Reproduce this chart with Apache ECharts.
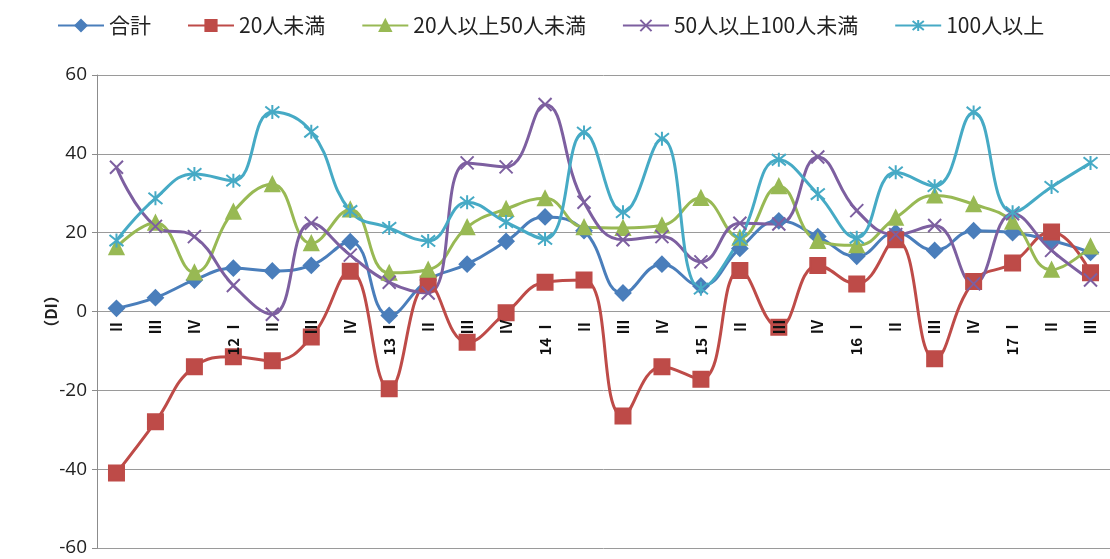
<!DOCTYPE html>
<html>
<head>
<meta charset="utf-8">
<script src="https://cdn.jsdelivr.net/npm/echarts@6/dist/echarts.min.js"></script>
<style>
  html, body { margin: 0; padding: 0; background: #fff; }
  #chart { width: 1110px; height: 559px; }
</style>
</head>
<body>
<div id="chart"></div>
<script>
// 四半期ラベル
const quarters = [
  'Ⅱ', 'Ⅲ', 'Ⅳ', '12 Ⅰ', 'Ⅱ', 'Ⅲ', 'Ⅳ', '13 Ⅰ', 'Ⅱ', 'Ⅲ', 'Ⅳ', '14 Ⅰ', 'Ⅱ',
  'Ⅲ', 'Ⅳ', '15 Ⅰ', 'Ⅱ', 'Ⅲ', 'Ⅳ', '16 Ⅰ', 'Ⅱ', 'Ⅲ', 'Ⅳ', '17 Ⅰ', 'Ⅱ', 'Ⅲ'
]

// 系列データ (DI)
const total = [0.8, 3.5, 8, 11, 10.3, 11.7, 17.7, -1, 8, 12, 17.8, 24, 20.5,
  4.7, 12, 6.5, 16, 23, 19, 14, 20, 15.5, 20.5, 20, 18, 15]
const under20 = [-41, -28, -14, -11.5, -12.5, -6.5, 10.2, -19.6, 7, -7.8, -0.3, 7.4, 8,
  -26.5, -14, -17.2, 10.4, -4, 11.7, 7, 18.2, -12, 7.6, 12.3, 20.2, 9.8]
const from20to50 = [16.3, 22.5, 9.9, 25.3, 32.3, 17.3, 25.9, 9.8, 10.6, 21.4, 26, 28.7, 21.4,
  21.2, 21.8, 28.8, 18.7, 31.8, 17.9, 16.8, 23.8, 29.4, 27.2, 22.8, 10.6, 16.5]
const from50to100 = [36.6, 21.6, 19, 6.6, -0.7, 22.4, 14.3, 7.4, 4.7, 37.7, 36.7, 52.5, 27.7,
  18.2, 19, 12.6, 22.4, 22.2, 39.2, 25.6, 19.5, 21.8, 7, 24.8, 15.5, 8]
const over100 = [18, 28.7, 34.9, 33.2, 50.6, 45.6, 25.5, 21.2, 17.9, 27.7, 22.7, 18.4, 45.4,
  25.2, 43.8, 5.8, 18.4, 38.5, 29.8, 18.7, 35.3, 31.8, 50.5, 25.2, 31.6, 37.7]

const yTicks = { min: -60, max: 60, interval: 20 }

const crossPath = 'path://M0 0 L10 10 M10 0 L0 10'
const starPath = 'path://M1 1 L9 9 M9 1 L1 9 M5 0 L5 10'

const mkSeries = (name, data, color, symbol, size) => ({
  name,
  type: 'line',
  data,
  smooth: 0.45,
  symbol,
  symbolSize: size,
  lineStyle: { color, width: 3 },
  itemStyle: { color, borderColor: color, borderWidth: 2 },
  emphasis: { disabled: true },
  z: 3
})

const chart = echarts.init(document.getElementById('chart'))

// 上半分のグリッドは 0 の線の下にラベルを置くためだけに使う
const plotTop = 75
const plotBottom = 11
const zeroY = plotTop + (559 - plotTop - plotBottom) * (yTicks.max / (yTicks.max - yTicks.min))

const option = {
  animation: false,
  backgroundColor: '#fff',
  legend: {
    top: 10,
    left: 52,
    itemWidth: 46,
    itemHeight: 14,
    itemGap: 36,
    textStyle: { fontSize: 21, color: '#222', fontFamily: '"Noto Sans CJK JP", sans-serif' },
    data: ['合計', '20人未満', '20人以上50人未満', '50人以上100人未満', '100人以上']
  },
  grid: [
    { left: 97, right: -7, top: plotTop, bottom: plotBottom },
    { left: 97, right: -7, top: plotTop, bottom: 559 - zeroY }
  ],
  xAxis: [
    {
      type: 'category',
      data: quarters,
      boundaryGap: true,
      axisLine: { show: false },
      axisTick: { show: false },
      axisLabel: { show: false }
    },
    {
      type: 'category',
      gridIndex: 1,
      data: quarters,
      boundaryGap: true,
      position: 'bottom',
      z: 10,
      axisLine: { show: false },
      axisTick: { show: false },
      axisLabel: {
        interval: 0,
        rotate: 90,
        margin: 8,
        fontSize: 15,
        color: '#111',
        fontWeight: 'bold',
        fontFamily: '"Noto Sans CJK JP", serif'
      }
    }
  ],
  yAxis: [
    {
      type: 'value',
      min: yTicks.min,
      max: yTicks.max,
      interval: yTicks.interval,
      name: '（DI）',
      nameLocation: 'middle',
      nameRotate: 90,
      nameGap: 38,
      nameMoveOverlap: false,
      nameTextStyle: { fontSize: 16, fontWeight: 'bold', color: '#222', fontFamily: '"Noto Sans CJK JP", sans-serif' },
      axisLine: { show: true, lineStyle: { color: '#8c8c8c' } },
      axisTick: { show: true, length: 5, lineStyle: { color: '#8c8c8c' } },
      axisLabel: { fontSize: 19, color: '#222', margin: 10, fontFamily: '"Open Sans", sans-serif' },
      splitLine: { lineStyle: { color: '#9a9a9a', width: 1 } }
    },
    {
      type: 'value',
      gridIndex: 1,
      min: 0,
      max: yTicks.max,
      show: false
    }
  ],
  series: [
    mkSeries('合計', total, '#4a7ebb', 'diamond', 15),
    mkSeries('20人未満', under20, '#be4b48', 'rect', 15),
    mkSeries('20人以上50人未満', from20to50, '#98b954', 'triangle', 14),
    mkSeries('50人以上100人未満', from50to100, '#7d5fa0', crossPath, 13),
    mkSeries('100人以上', over100, '#46aac5', starPath, 14)
  ]
}

chart.setOption(option)
window.addEventListener('resize', () => chart.resize())
</script>
</body>
</html>
